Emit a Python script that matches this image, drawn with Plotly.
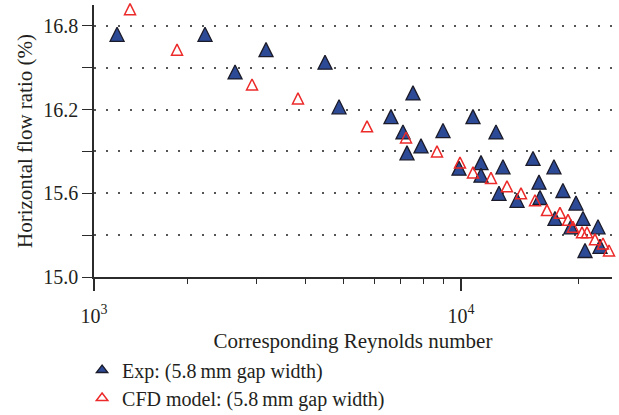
import math
import plotly.graph_objects as go

# Experimental measurements: corresponding Reynolds number vs horizontal flow ratio (%)
exp_re = [1326, 2223, 2652, 3181, 4499, 4885, 6628, 7543, 7112, 7282, 7906,
          8997, 9883, 10730, 11247, 11247, 12283, 12797, 12501, 13899, 15266,
          15812, 15905, 17264, 17367, 18199, 19075, 19652, 20478, 20720,
          22362, 22626]
exp_ratio = [16.74, 16.74, 16.47, 16.63, 16.54, 16.22, 16.15, 16.32, 16.04,
             15.89, 15.94, 16.05, 15.78, 16.15, 15.82, 15.73, 16.04, 15.79,
             15.60, 15.55, 15.85, 15.68, 15.57, 15.79, 15.42, 15.62, 15.36,
             15.53, 15.42, 15.19, 15.36, 15.22]

# CFD model predictions
cfd_re = [1431, 1886, 2930, 3838, 5758, 7240, 8685, 9941, 10730, 11927,
          13101, 14225, 15446, 16571, 17886, 18750, 19305, 20358, 20964,
          21970, 23025, 23857]
cfd_ratio = [16.92, 16.63, 16.38, 16.28, 16.08, 16.00, 15.90, 15.82, 15.75,
             15.71, 15.65, 15.60, 15.55, 15.48, 15.46, 15.41, 15.36, 15.32,
             15.32, 15.27, 15.24, 15.19]

series_names = ["Exp: (5.8\u2009mm gap width)",
                "CFD model: (5.8\u2009mm gap width)"]

# Axis extents and ticks
x_min, x_max = 1158, 24280
x_major_vals = [x_min, 10000]
x_major_text = ["10<sup>3</sup>", "10<sup>4</sup>"]
x_minor_vals = [2000, 3000, 4000, 5000, 6000, 7000, 8000, 9000, 20000]
y_min, y_max = 15.0, 16.95
y_major_vals = [15.0, 15.6, 16.2, 16.8]
y_major_text = ["15.0", "15.6", "16.2", "16.8"]
y_minor_vals = [15.3, 15.9, 16.5]

FONT = "Liberation Serif, Times New Roman, serif"
TEXT_COLOR = "#231f20"
AXIS_COLOR = "#2b2b2b"
GRID_COLOR = "#555555"
BLUE = "#2d4a96"
BLUE_EDGE = "#1b1b2a"
RED = "#ec2a2a"
BLUE_SIZE = 14
RED_SIZE = 11

blue_marker = dict(color=BLUE, line=dict(color=BLUE_EDGE, width=1.3))
red_marker = dict(color="rgba(255,255,255,0)", line=dict(color=RED, width=1.5))

fig = go.Figure()

# Upright triangles centred on their data points
fig.add_trace(go.Scatter(
    x=exp_re, y=exp_ratio, mode="markers", name=series_names[0],
    cliponaxis=False, showlegend=False,
    marker=dict(symbol="arrow-down", angle=180, standoff=BLUE_SIZE / 2,
                size=BLUE_SIZE, **blue_marker),
))
fig.add_trace(go.Scatter(
    x=cfd_re, y=cfd_ratio, mode="markers", name=series_names[1],
    cliponaxis=False, showlegend=False,
    marker=dict(symbol="arrow-down", angle=180, standoff=RED_SIZE / 2,
                size=RED_SIZE, **red_marker),
))

# Legend keys (one legend per row so the row spacing can be set)
fig.add_trace(go.Scatter(
    x=[None], y=[None], mode="markers", name=series_names[0],
    legend="legend", showlegend=True,
    marker=dict(symbol="triangle-up", size=10, **blue_marker),
))
fig.add_trace(go.Scatter(
    x=[None], y=[None], mode="markers", name=series_names[1],
    legend="legend2", showlegend=True,
    marker=dict(symbol="triangle-up", size=10, **red_marker),
))

legend_style = dict(
    xanchor="left", yanchor="middle", orientation="v", itemwidth=30,
    font=dict(family=FONT, size=20, color=TEXT_COLOR),
    bgcolor="rgba(0,0,0,0)",
)

fig.update_layout(
    width=619, height=415,
    margin=dict(l=94, r=7, t=5, b=138, autoexpand=False),
    paper_bgcolor="white", plot_bgcolor="white",
    font=dict(family=FONT, size=20, color=TEXT_COLOR),
    showlegend=True,
    legend=dict(x=-0.023, y=-0.342, **legend_style),
    legend2=dict(x=-0.023, y=-0.445, **legend_style),
)

fig.update_xaxes(
    type="log",
    range=[math.log10(x_min), math.log10(x_max)],
    showline=True, linecolor=AXIS_COLOR, linewidth=1.5,
    ticks="outside", ticklen=12, tickwidth=1.5, tickcolor=AXIS_COLOR,
    tickvals=x_major_vals, ticktext=x_major_text, ticklabelstandoff=8,
    tickfont=dict(family=FONT, size=20, color=TEXT_COLOR),
    minor=dict(ticks="outside", ticklen=5, tickwidth=1.3,
               tickcolor=AXIS_COLOR, tickvals=x_minor_vals, showgrid=False),
    showgrid=False, zeroline=False,
    title=dict(text="Corresponding Reynolds number",
               font=dict(family=FONT, size=21, color=TEXT_COLOR), standoff=8),
    automargin=False,
)

fig.update_yaxes(
    range=[y_min, y_max],
    showline=True, linecolor=AXIS_COLOR, linewidth=1.5,
    ticks="outside", ticklen=10, tickwidth=1.3, tickcolor=AXIS_COLOR,
    tickvals=y_major_vals, ticktext=y_major_text,
    tickfont=dict(family=FONT, size=20, color=TEXT_COLOR),
    showgrid=True, gridcolor=GRID_COLOR, gridwidth=1.5, griddash="2px,10px",
    minor=dict(ticks="outside", ticklen=10, tickwidth=1.3,
               tickcolor=AXIS_COLOR, tickvals=y_minor_vals,
               showgrid=True, gridcolor=GRID_COLOR, gridwidth=1.5,
               griddash="2px,10px"),
    zeroline=False,
    title=dict(text="Horizontal flow ratio (%)",
               font=dict(family=FONT, size=21, color=TEXT_COLOR), standoff=5),
    automargin=False,
)

fig.write_html("out.html")
